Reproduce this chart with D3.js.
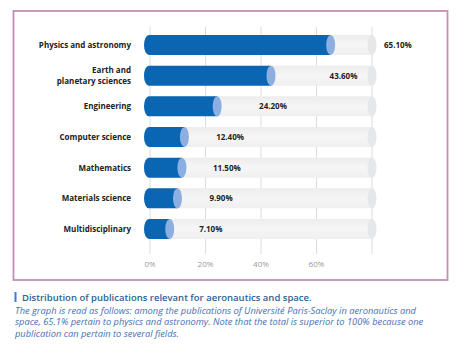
<!DOCTYPE html>
<html><head><meta charset="utf-8">
<script src="https://cdn.jsdelivr.net/npm/d3@7"></script>
<style>body{margin:0;background:#fff}svg{display:block}</style>
</head><body>
<svg id="c" width="466" height="355"></svg>
<script>
const categories = ["Physics and astronomy","Earth and\nplanetary sciences","Engineering","Computer science","Mathematics","Materials science","Multidisciplinary"];
const values = [65.1, 43.6, 24.2, 12.4, 11.5, 9.9, 7.1];
const valueLabels = ["65.10%","43.60%","24.20%","12.40%","11.50%","9.90%","7.10%"];
const tickValues = [0, 20, 40, 60, 80];
const tickLabels = ["0%","20%","40%","60%",""];
const title = "Distribution of publications relevant for aeronautics and space.";
const noteLines = ["The graph is read as follows: among the publications of Université Paris-Saclay in aeronautics and",
  "space, 65.1% pertain to physics and astronomy. Note that the total is superior to 100% because one",
  "publication can pertain to several fields."];

const svg = d3.select("#c");
const font = "'Open Sans', sans-serif";
const x = d3.scaleLinear().domain([0, 80]).range([150, 372]);
const y = d3.scalePoint().domain(categories).range([29.7, 244.3]).padding(0.5);
const bh = 20, rxL = 5, rxR = 4.5;

// frame
svg.append("rect").attr("x",13.5).attr("y",11).attr("width",434).attr("height",269)
  .attr("fill","none").attr("stroke","#c48fb2").attr("stroke-width",1.8);

const defs = svg.append("defs");
const g1 = defs.append("linearGradient").attr("id","trk").attr("x1",0).attr("x2",0).attr("y1",0).attr("y2",1);
g1.append("stop").attr("offset","0%").attr("stop-color","#ececec");
g1.append("stop").attr("offset","50%").attr("stop-color","#f6f6f6");
g1.append("stop").attr("offset","100%").attr("stop-color","#efefef");

// gridlines
svg.append("g").selectAll("line").data(tickValues).join("line")
  .attr("x1",d=>x(d)).attr("x2",d=>x(d)).attr("y1",27).attr("y2",254)
  .attr("stroke","#dcdcdc").attr("stroke-width",1);

// axis labels
svg.append("g").selectAll("text").data(tickValues).join("text")
  .attr("x",d=>x(d)).attr("y",267).attr("text-anchor","middle")
  .attr("font-family",font).attr("font-size",8).attr("fill","#9a9a9a")
  .text((d,i)=>tickLabels[i]);

function barPath(x0, x1, yc){
  const t = yc - bh/2, b = yc + bh/2;
  return `M${x1},${t} L${x0},${t} A${rxL},${bh/2} 0 0 0 ${x0},${b} L${x1},${b} Z`;
}
const rows = svg.append("g").selectAll("g").data(categories).join("g");
// track
rows.append("path").attr("d",d=>barPath(x(0)-1, x(80), y(d))).attr("fill","url(#trk)");
rows.append("ellipse").attr("cx",x(80)).attr("cy",d=>y(d)).attr("rx",rxR).attr("ry",bh/2).attr("fill","#e5e7e9");
// value bar
rows.append("path").attr("d",(d,i)=>barPath(x(0)-1, x(values[i]), y(d))).attr("fill","#0a66b2");
rows.append("ellipse").attr("cx",(d,i)=>x(values[i])).attr("cy",d=>y(d)).attr("rx",rxR).attr("ry",bh/2).attr("fill","#8daee0");

// value labels
rows.append("text").each(function(d,i){
  const v = values[i];
  let cx = x(0) + 35 + (x(v)-x(0))*1.31;
  const t = d3.select(this);
  if (cx + 20 > x(80)) { t.attr("x", x(80)+12).attr("text-anchor","start"); }
  else { t.attr("x", cx).attr("text-anchor","middle"); }
}).attr("y",d=>y(d)+3).attr("font-family",font).attr("font-weight",700)
  .attr("font-size",8).attr("fill","#222").text((d,i)=>valueLabels[i]);

// category labels
rows.append("text").attr("text-anchor","end").attr("font-family",font).attr("font-weight",700)
  .attr("font-size",8).attr("fill","#222")
  .attr("transform",d=>`translate(131,${y(d)})`)
  .each(function(d){
    const lines = d.split("\n"); const t = d3.select(this);
    lines.forEach((l,k)=>t.append("tspan").attr("x",0).attr("y",(k-(lines.length-1)/2)*10.5+3).text(l));
  });

// caption
svg.append("rect").attr("x",14.5).attr("y",292).attr("width",2).attr("height",10).attr("fill","#3d7cc9");
svg.append("text").attr("x",22).attr("y",301).attr("font-family",font).attr("font-weight",600)
  .attr("font-size",9.5).attr("fill","#2f5f92").text(title);
svg.append("g").selectAll("text").data(noteLines).join("text")
  .attr("x",15).attr("y",(d,i)=>313.5+i*11.7).attr("font-family",font).attr("font-style","italic")
  .attr("font-size",9.3).attr("fill","#4470b3").text(d=>d);
</script>
</body></html>
